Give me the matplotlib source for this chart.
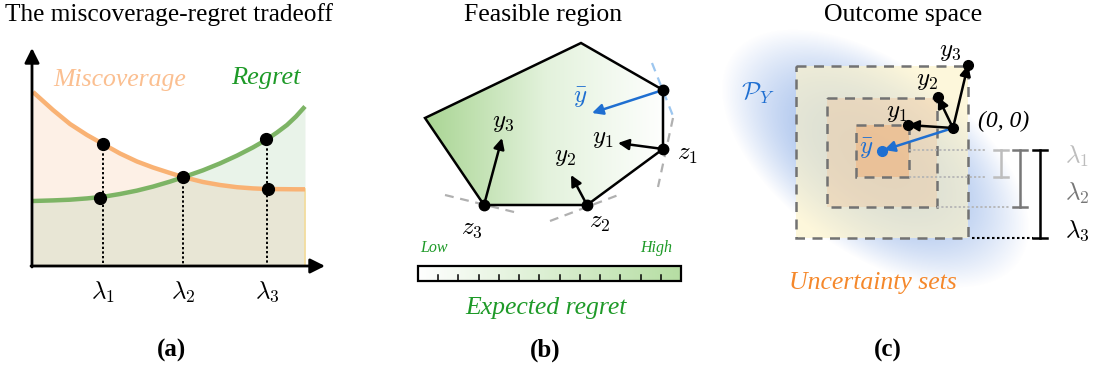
import numpy as np
import matplotlib
matplotlib.use('Agg')
import matplotlib.pyplot as plt
from matplotlib.patches import Polygon, Rectangle
from matplotlib.colors import LinearSegmentedColormap

plt.rcParams['font.family'] = ['Liberation Serif', 'DejaVu Serif']
plt.rcParams['mathtext.fontset'] = 'cm'

# ---- panel (a): curves (pixel coords) ----
curve_x = [33, 53, 70, 87, 103, 120, 137, 153, 170, 183, 203, 220, 237, 253, 267, 277, 287, 296, 305]
miscoverage = [92, 110, 124, 135, 144, 153.5, 161.5, 167.5, 173, 177, 182, 185, 187.2, 188.4, 189, 189.1, 189.2, 189.3, 189.3]
regret = [201, 200.4, 199.7, 198.4, 196.8, 194, 190.6, 186.6, 181.6, 177.3, 170.3, 163.4, 155.6, 147.4, 139.3, 132.5, 125, 116.5, 106.5]
lam_x = [103, 183, 267]
lam_top = [144, 177, 139]
lam_labels = [r'$\lambda_1$', r'$\lambda_2$', r'$\lambda_3$']
dots_a = [(103, 144), (100, 198), (183, 177), (266, 139), (268, 189)]

# ---- panel (b): feasible region ----
poly_b = [(581, 43), (663, 90), (663, 149), (587, 205), (484, 205), (425, 118)]
z_pts = [(663, 149), (587, 205), (484, 205)]
y_tips_b = [(618, 143), (571, 175), (502, 138)]
y_lab_b = [(603, 139), (565, 157), (503, 123)]
z_lab = [(687, 155), (600, 223), (472, 229)]
tangents_b = [((673, 118), (658, 187)), ((550, 221), (621, 194)), ((445, 195), (518, 213))]
ybar_b = ((663, 90), (592, 113))
n_ticks = 12

# ---- panel (c): outcome space ----
squares = [(796, 66, 968, 238), (827, 98, 937, 207), (856, 125, 909, 177)]
origin_c = (953, 128)
y_tips_c = [(908, 125), (938, 97), (968, 65)]
y_lab_c = [(897, 113), (927, 81), (950, 52)]
ybar_c = (882, 151)
brackets = [(1001, 150, 177), (1020, 150, 207), (1040, 150, 238)]
bracket_cols = ['#bdbdbd', '#777777', 'black']
dotted_c = [(909, 987, 150), (909, 987, 177), (937, 1010, 207)]

fig = plt.figure(figsize=(10.93, 3.68), dpi=100)
ax = fig.add_axes([0, 0, 1, 1])
ax.set_xlim(0, 1093)
ax.set_ylim(368, 0)
ax.axis('off')

arr = dict(arrowstyle='-|>', color='k', lw=1.8, mutation_scale=16, shrinkA=0, shrinkB=0)

# ===================== (a) =====================
ax.text(169, 15, 'The miscoverage-regret tradeoff', ha='center', va='center', fontsize=18.3)
ax.fill_between(curve_x, miscoverage, 266, color='#f28e3e', alpha=0.13, lw=0)
ax.fill_between(curve_x, regret, 266, color='#82b982', alpha=0.17, lw=0)
ax.plot([305, 305], [189, 266], color='#f3dc9a', lw=1.2)
ax.plot(curve_x, miscoverage, color='#f9b274', lw=3.2, solid_capstyle='butt')
ax.plot(curve_x, regret, color='#7db465', lw=3.2, solid_capstyle='butt')
for x, y in zip(lam_x, lam_top):
    ax.plot([x, x], [y, 266], color='k', lw=1.4, ls=(0, (1.2, 1.2)))
for x, y in dots_a:
    ax.plot(x, y, 'o', color='k', ms=8.5)
ax.annotate('', xy=(32, 48), xytext=(32, 267), arrowprops=dict(arr, mutation_scale=22, lw=2))
ax.annotate('', xy=(325, 266), xytext=(31, 266), arrowprops=dict(arr, mutation_scale=22, lw=2))
for x, lab in zip(lam_x, lam_labels):
    ax.text(x, 292, lab, ha='center', va='center', fontsize=18)
ax.text(120, 80, 'Miscoverage', ha='center', va='center', fontsize=18.5, style='italic', color='#fbbf90')
ax.text(266, 78, 'Regret', ha='center', va='center', fontsize=19, style='italic', color='#1e9a28')
ax.text(171, 350, '(a)', ha='center', va='center', fontsize=18, weight='bold')

# ===================== (b) =====================
ax.text(543, 15, 'Feasible region', ha='center', va='center', fontsize=18.5)
cm_poly = LinearSegmentedColormap.from_list('g', ['#a9d593', '#e3f2dc', '#ffffff'])
grad = np.linspace(0, 1, 256).reshape(1, -1)
im = ax.imshow(grad, extent=[425, 668, 205, 43], cmap=cm_poly, aspect='auto', zorder=1)
pp = Polygon(poly_b, closed=True, facecolor='none', edgecolor='k', lw=1.8, zorder=3)
ax.add_patch(pp)
im.set_clip_path(pp)
for (p0, p1) in tangents_b:
    ax.plot([p0[0], p1[0]], [p0[1], p1[1]], color='#b0b0b0', lw=1.6, ls=(0, (4, 3)), zorder=2)
ax.plot([652, 673], [63, 116], color='#9cc6ef', lw=1.6, ls=(0, (4, 3)), zorder=2)
ax.annotate('', xy=ybar_b[1], xytext=ybar_b[0],
            arrowprops=dict(arr, color='#1f6fd1'), zorder=4)
ax.text(580, 97, r'$\bar{y}$', ha='center', va='center', fontsize=18, color='#1f6fd1')
for i, (z, t) in enumerate(zip(z_pts, y_tips_b)):
    ax.annotate('', xy=t, xytext=z, arrowprops=arr, zorder=4)
    ax.text(*y_lab_b[i], r'$y_{%d}$' % (i + 1), ha='center', va='center', fontsize=18)
    ax.text(*z_lab[i], r'$z_{%d}$' % (i + 1), ha='center', va='center', fontsize=18)
for (x, y) in z_pts + [(663, 90)]:
    ax.plot(x, y, 'o', color='k', ms=7.5, zorder=5)
cm_bar = LinearSegmentedColormap.from_list('gb', ['#ffffff', '#b6dea3'])
ax.imshow(grad, extent=[418, 681, 281, 266], cmap=cm_bar, aspect='auto', zorder=1)
ax.add_patch(Rectangle((418, 266), 263, 15, fill=False, edgecolor='k', lw=1.6, zorder=3))
for tx in np.linspace(418, 681, n_ticks + 2)[1:-1]:
    ax.plot([tx, tx], [281, 275], color='k', lw=1.1, zorder=3)
ax.text(434, 248, 'Low', ha='center', va='center', fontsize=11.5, style='italic', color='#1e9a28')
ax.text(656, 248, 'High', ha='center', va='center', fontsize=11.5, style='italic', color='#1e9a28')
ax.text(546, 308, 'Expected regret', ha='center', va='center', fontsize=18.5, style='italic', color='#1e9a28')
ax.text(545, 350, '(b)', ha='center', va='center', fontsize=18, weight='bold')

# ===================== (c) =====================
ax.text(903, 15, 'Outcome space', ha='center', va='center', fontsize=18.5)
xs = np.arange(690, 1093)
ys = np.arange(25, 330)
X, Y = np.meshgrid(xs, ys)
ang = np.deg2rad(36)
u = (X - 875) * np.cos(ang) + (Y - 158) * np.sin(ang)
v = -(X - 875) * np.sin(ang) + (Y - 158) * np.cos(ang)
r2 = (u / 178) ** 2 + (v / 95) ** 2
alpha = 0.55 * np.clip(1 - r2, 0, 1) ** 1.1
blob = np.zeros(X.shape + (4,))
blob[..., 0] = 0.29
blob[..., 1] = 0.50
blob[..., 2] = 0.85
blob[..., 3] = alpha
ax.imshow(blob, extent=[690, 1093, 330, 25], aspect='auto', zorder=1, interpolation='bilinear')
fills = [('#fdf3c8', 0.65), ('#f2c79e', 0.4), ('#f0b27a', 0.55)]
for (x0, y0, x1, y1), (fc, al) in zip(squares, fills):
    ax.add_patch(Rectangle((x0, y0), x1 - x0, y1 - y0, facecolor=fc, alpha=al, lw=0, zorder=2))
    ax.add_patch(Rectangle((x0, y0), x1 - x0, y1 - y0, fill=False, edgecolor='#727272',
                           lw=1.8, ls=(0, (4, 3)), zorder=3))
for x0, x1, y in dotted_c:
    ax.plot([x0, x1], [y, y], color='#b5b5b5', lw=1.3, ls=(0, (1.2, 1.2)), zorder=3)
ax.plot([972, 1033], [238, 238], color='k', lw=1.5, ls=(0, (1.2, 1.2)), zorder=3)
for (bx, b0, b1), col in zip(brackets, bracket_cols):
    ax.plot([bx, bx], [b0, b1], color=col, lw=1.8, zorder=3)
    ax.plot([bx - 7, bx + 7], [b0, b0], color=col, lw=1.8, zorder=3)
    ax.plot([bx - 7, bx + 7], [b1, b1], color=col, lw=1.8, zorder=3)
for i, (col, yy) in enumerate(zip(bracket_cols, [156, 193, 231])):
    ax.text(1077, yy, r'$\lambda_{%d}$' % (i + 1), ha='center', va='center', fontsize=18, color=col)
ax.annotate('', xy=(884, 150), xytext=origin_c, arrowprops=dict(arr, color='#1f6fd1'), zorder=4)
ax.plot(*ybar_c, 'o', color='#1f6fd1', ms=7, zorder=5)
ax.text(866, 148, r'$\bar{y}$', ha='center', va='center', fontsize=18, color='#1f6fd1')
for i, t in enumerate(y_tips_c):
    ax.annotate('', xy=t, xytext=origin_c, arrowprops=arr, zorder=4)
    ax.plot(*t, 'o', color='k', ms=7, zorder=5)
    ax.text(*y_lab_c[i], r'$y_{%d}$' % (i + 1), ha='center', va='center', fontsize=18)
ax.plot(*origin_c, 'o', color='k', ms=7, zorder=5)
ax.text(1004, 121, '(0, 0)', ha='center', va='center', fontsize=17, style='italic')
ax.text(758, 93, r'$\mathcal{P}_Y$', ha='center', va='center', fontsize=18, color='#1f6fd1')
ax.text(873, 283, 'Uncertainty sets', ha='center', va='center', fontsize=18.5, style='italic', color='#f5882b')
ax.text(888, 350, '(c)', ha='center', va='center', fontsize=18, weight='bold')

ax.set_xlim(0, 1093)
ax.set_ylim(368, 0)
fig.savefig('out.png', dpi=100)
